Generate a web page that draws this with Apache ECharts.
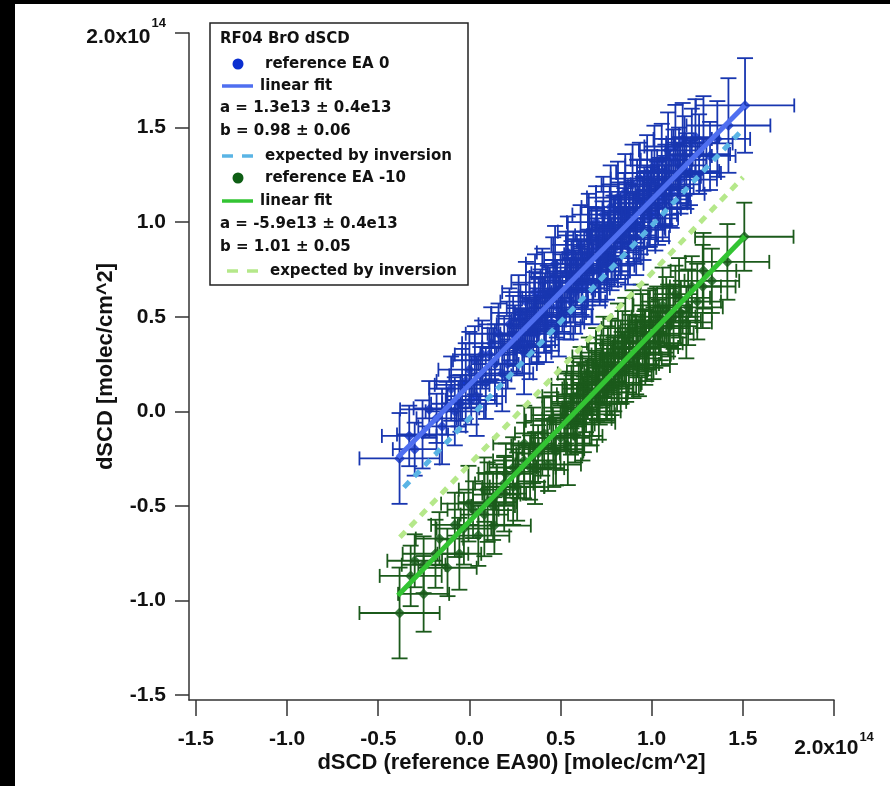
<!DOCTYPE html>
<html><head><meta charset="utf-8">
<script src="https://cdn.jsdelivr.net/npm/echarts@6/dist/echarts.min.js"></script>
<style>html,body{margin:0;padding:0;background:#fff}#c{width:890px;height:786px}</style>
</head><body><div id="c"></div>
<script>
// values in units of 1e14 molec/cm^2 ; each point: [x, y, xErr, yErr]
const xTicks = [-1.5, -1.0, -0.5, 0.0, 0.5, 1.0, 1.5, 2.0];
const yTicks = [-1.5, -1.0, -0.5, 0.0, 0.5, 1.0, 1.5, 2.0];

const refEA0 = [
[-0.383,-0.249,0.22,0.24],[-0.33,-0.13,0.15,0.16],[-0.30,-0.20,0.12,0.14],[-0.257,-0.122,0.14,0.18],
[-0.22,0.01,0.16,0.15],[-0.18,-0.037,0.11,0.13],[-0.15,-0.08,0.13,0.20],[-0.126,0.016,0.18,0.14],
[-0.10,0.12,0.12,0.17],[-0.06,0.04,0.15,0.12],[-0.049,0.042,0.10,0.15],[-0.02,0.16,0.16,0.20],
[0.01,0.06,0.14,0.13],[0.03,0.27,0.12,0.18],[0.06,0.19,0.17,0.15],[0.09,0.15,0.11,0.19],
[0.11,0.30,0.15,0.14],[0.14,0.25,0.13,0.21],[0.16,0.41,0.18,0.16],[0.191,0.334,0.12,0.17],
[0.21,0.25,0.16,0.13],[0.24,0.41,0.14,0.20],[0.25,0.40,0.12,0.16],[0.26,0.34,0.19,0.15],
[0.28,0.49,0.12,0.18],[0.30,0.31,0.15,0.22],[0.32,0.46,0.17,0.14],[0.34,0.42,0.13,0.17],
[0.35,0.44,0.13,0.15],[0.355,0.546,0.15,0.19],[0.37,0.41,0.20,0.16],[0.39,0.61,0.12,0.14],
[0.41,0.51,0.16,0.20],[0.43,0.60,0.14,0.17],[0.44,0.63,0.11,0.13],[0.45,0.47,0.18,0.15],
[0.46,0.71,0.13,0.21],[0.48,0.55,0.15,0.16],[0.50,0.65,0.17,0.18],[0.51,0.58,0.14,0.16],
[0.52,0.52,0.12,0.14],[0.53,0.73,0.19,0.20],[0.55,0.64,0.14,0.17],[0.56,0.72,0.12,0.18],
[0.57,0.80,0.16,0.15],[0.58,0.63,0.13,0.22],[0.59,0.68,0.15,0.12],[0.60,0.74,0.18,0.16],
[0.62,0.65,0.15,0.19],[0.63,0.81,0.12,0.14],[0.64,0.70,0.11,0.16],[0.65,0.76,0.17,0.20],
[0.66,0.83,0.14,0.13],[0.67,0.91,0.14,0.17],[0.68,0.74,0.20,0.15],[0.70,0.86,0.13,0.21],
[0.71,0.80,0.12,0.17],[0.72,0.74,0.16,0.16],[0.73,0.93,0.15,0.18],[0.74,0.90,0.15,0.14],
[0.75,0.84,0.18,0.14],[0.76,0.82,0.11,0.15],[0.77,0.99,0.12,0.20],[0.78,0.81,0.16,0.17],
[0.79,0.96,0.13,0.18],[0.80,0.92,0.14,0.22],[0.82,1.06,0.17,0.15],[0.83,0.89,0.13,0.19],
[0.84,0.95,0.15,0.13],[0.85,1.02,0.19,0.16],[0.86,1.05,0.12,0.16],[0.87,0.87,0.15,0.20],
[0.88,1.02,0.12,0.14],[0.90,0.97,0.17,0.18],[0.91,1.00,0.14,0.15],[0.92,1.12,0.14,0.21],
[0.94,0.98,0.16,0.15],[0.95,1.10,0.13,0.14],[0.96,1.12,0.13,0.17],[0.98,1.07,0.18,0.20],
[0.99,1.04,0.15,0.17],[1.00,1.22,0.15,0.16],[1.02,1.04,0.12,0.19],[1.03,1.17,0.12,0.15],
[1.04,1.19,0.17,0.15],[1.06,1.12,0.14,0.22],[1.07,1.14,0.14,0.16],[1.08,1.27,0.16,0.17],
[1.10,1.18,0.13,0.20],[1.12,1.33,0.18,0.16],[1.14,1.24,0.13,0.17],[1.158,1.225,0.20,0.18],
[1.18,1.35,0.15,0.21],[1.21,1.26,0.17,0.17],[1.24,1.45,0.13,0.20],[1.284,1.416,0.16,0.25],
[1.32,1.35,0.14,0.18],[1.36,1.44,0.18,0.20],[1.421,1.511,0.23,0.25],[1.512,1.617,0.27,0.25],
[0.22,0.46,0.17,0.19],[0.27,0.52,0.15,0.20],[0.29,0.37,0.18,0.17],[0.31,0.58,0.14,0.21],[0.33,0.35,0.16,0.18],
[0.36,0.63,0.18,0.20],[0.38,0.48,0.15,0.22],[0.40,0.68,0.17,0.18],[0.42,0.45,0.19,0.19],[0.47,0.78,0.16,0.20],
[0.49,0.50,0.18,0.21],[0.54,0.84,0.17,0.19],[0.555,0.58,0.19,0.20],[0.61,0.88,0.16,0.21],[0.615,0.69,0.20,0.18],
[0.655,0.95,0.17,0.20],[0.675,0.68,0.18,0.22],[0.695,1.00,0.16,0.19],[0.715,0.77,0.19,0.21],[0.735,1.04,0.17,0.20],
[0.755,0.78,0.20,0.19],[0.775,1.08,0.16,0.22],[0.795,0.86,0.18,0.20],[0.815,1.13,0.17,0.19],[0.835,0.93,0.19,0.21],
[0.855,1.16,0.16,0.20],[0.875,0.96,0.20,0.18],[0.895,1.20,0.17,0.21],[0.915,0.92,0.18,0.20],[0.935,1.23,0.16,0.19],
[0.955,1.02,0.19,0.22],[0.975,1.26,0.17,0.20],[0.995,1.10,0.20,0.19],[1.015,1.30,0.16,0.21],[1.035,1.08,0.18,0.20],
[1.055,1.33,0.17,0.19],[1.075,1.20,0.19,0.21],[1.09,1.38,0.16,0.20],[1.11,1.15,0.18,0.18],[1.13,1.40,0.17,0.22],
[1.15,1.30,0.15,0.20],[1.17,1.44,0.16,0.19],[1.19,1.27,0.18,0.20],[1.22,1.42,0.14,0.18],[1.26,1.36,0.17,0.21],
[0.12,0.36,0.16,0.19],[0.07,0.30,0.15,0.18],[0.00,0.22,0.17,0.20],[-0.04,0.14,0.15,0.19],[-0.08,0.00,0.16,0.18],
[0.18,0.20,0.17,0.20],[0.04,0.08,0.16,0.21]
];

const refEAm10 = [
[-0.383,-1.066,0.22,0.24],[-0.322,-0.870,0.17,0.16],[-0.30,-0.79,0.15,0.14],[-0.251,-0.965,0.14,0.20],
[-0.251,-0.811,0.12,0.15],[-0.186,-0.753,0.18,0.18],[-0.164,-0.673,0.13,0.14],[-0.120,-0.827,0.16,0.15],
[-0.08,-0.60,0.13,0.17],[-0.055,-0.753,0.12,0.19],[-0.005,-0.488,0.15,0.20],[0.02,-0.52,0.14,0.15],
[0.049,-0.657,0.17,0.16],[0.082,-0.546,0.13,0.22],[0.082,-0.414,0.14,0.17],[0.13,-0.50,0.12,0.18],
[0.137,-0.604,0.20,0.15],[0.15,-0.44,0.13,0.16],[0.191,-0.435,0.12,0.20],[0.191,-0.382,0.16,0.14],
[0.20,-0.33,0.15,0.16],[0.240,-0.297,0.13,0.16],[0.262,-0.398,0.15,0.18],[0.27,-0.32,0.12,0.14],
[0.301,-0.170,0.17,0.20],[0.333,-0.297,0.14,0.17],[0.35,-0.18,0.12,0.20],[0.377,-0.223,0.12,0.15],
[0.40,-0.19,0.13,0.15],[0.410,-0.117,0.16,0.19],[0.432,-0.281,0.18,0.14],[0.45,-0.05,0.14,0.15],
[0.475,-0.212,0.15,0.18],[0.50,-0.14,0.16,0.17],[0.53,0.02,0.13,0.19],[0.557,-0.069,0.13,0.16],
[0.56,0.05,0.11,0.14],[0.58,-0.13,0.15,0.14],[0.60,0.09,0.12,0.17],[0.62,-0.06,0.18,0.20],
[0.628,-0.016,0.17,0.20],[0.64,0.02,0.13,0.13],[0.65,0.12,0.14,0.16],[0.67,0.00,0.16,0.18],
[0.69,0.17,0.13,0.15],[0.70,0.11,0.11,0.16],[0.71,0.05,0.15,0.20],[0.73,0.21,0.17,0.17],
[0.74,0.16,0.12,0.13],[0.75,0.10,0.12,0.14],[0.76,0.26,0.14,0.19],[0.78,0.14,0.16,0.16],
[0.79,0.24,0.11,0.15],[0.80,0.30,0.13,0.18],[0.82,0.19,0.18,0.15],[0.84,0.33,0.15,0.20],
[0.85,0.28,0.13,0.14],[0.86,0.22,0.12,0.17],[0.88,0.37,0.16,0.14],[0.90,0.25,0.14,0.18],
[0.92,0.33,0.12,0.15],[0.93,0.24,0.17,0.16],[0.95,0.42,0.13,0.20],[0.96,0.37,0.11,0.16],
[0.97,0.31,0.15,0.15],[0.99,0.47,0.12,0.17],[1.01,0.36,0.16,0.19],[1.03,0.50,0.14,0.16],
[1.04,0.45,0.13,0.14],[1.05,0.41,0.18,0.14],[1.08,0.53,0.13,0.18],[1.10,0.45,0.15,0.20],
[1.12,0.50,0.12,0.17],[1.13,0.62,0.12,0.15],[1.16,0.52,0.17,0.17],[1.19,0.47,0.14,0.19],
[1.22,0.66,0.16,0.16],[1.25,0.58,0.13,0.20],[1.284,0.743,0.18,0.20],[1.33,0.69,0.15,0.17],
[1.415,0.79,0.23,0.20],[1.508,0.923,0.27,0.18],
[0.46,-0.20,0.17,0.20],[0.52,-0.02,0.18,0.19],[0.54,-0.18,0.16,0.21],[0.57,0.08,0.17,0.20],[0.59,-0.04,0.19,0.18],
[0.61,0.14,0.16,0.20],[0.63,0.04,0.18,0.21],[0.655,0.20,0.17,0.19],[0.675,0.07,0.19,0.20],[0.695,0.24,0.16,0.20],
[0.715,0.12,0.18,0.19],[0.735,0.29,0.17,0.21],[0.755,0.15,0.19,0.20],[0.775,0.31,0.16,0.18],[0.795,0.20,0.18,0.20],
[0.815,0.36,0.17,0.21],[0.835,0.23,0.19,0.19],[0.855,0.40,0.16,0.20],[0.875,0.28,0.18,0.18],[0.895,0.44,0.17,0.20],
[0.915,0.30,0.19,0.21],[0.94,0.48,0.16,0.19],[0.965,0.34,0.18,0.20],[0.985,0.40,0.17,0.18],[1.02,0.44,0.19,0.21],
[1.06,0.56,0.16,0.20],[1.09,0.48,0.18,0.19],[1.15,0.60,0.17,0.21],[1.20,0.55,0.19,0.20],[1.28,0.66,0.18,0.22],
[0.30,-0.26,0.17,0.20],[0.36,-0.30,0.16,0.19],[0.24,-0.40,0.17,0.20],[0.10,-0.48,0.16,0.21],[-0.03,-0.62,0.15,0.19]
];

const fitEA0 = [[-0.392,-0.243],[1.512,1.618]];
const expectedEA0 = [[-0.359,-0.402],[1.506,1.497]];
const fitEAm10 = [[-0.392,-0.973],[1.512,0.925]];
const expectedEAm10 = [[-0.381,-0.666],[1.501,1.237]];

const legendRows = [
  {text:'RF04 BrO dSCD', x:220, y:39},
  {text:'reference EA 0', x:265, y:64, sym:'dot', color:'#0b2fd0'},
  {text:'linear fit', x:260, y:86, sym:'line', color:'#4f6ff0'},
  {text:'a = 1.3e13 ± 0.4e13', x:220, y:108},
  {text:'b = 0.98 ± 0.06', x:220, y:131},
  {text:'expected by inversion', x:265, y:156, sym:'dash', color:'#5ab4e5'},
  {text:'reference EA -10', x:265, y:178, sym:'dot', color:'#0e5e14'},
  {text:'linear fit', x:260, y:201, sym:'line', color:'#33c433'},
  {text:'a = -5.9e13 ± 0.4e13', x:220, y:224},
  {text:'b = 1.01 ± 0.05', x:220, y:247},
  {text:'expected by inversion', x:270, y:271, sym:'dash', color:'#b5e88a'}
];

const C_BLUE_ERR = '#1836b0', C_BLUE_PT = '#0b2fd0';
const C_GREEN_ERR = '#1b5a1b', C_GREEN_PT = '#0e5e14';
const FONT = '"Liberation Sans", Arial, sans-serif';

function errRender(color) {
  return function (params, api) {
    const x = api.value(0), y = api.value(1), xe = api.value(2), ye = api.value(3);
    const l = api.coord([x - xe, y]), r = api.coord([x + xe, y]);
    const t = api.coord([x, y + ye]), b = api.coord([x, y - ye]);
    const c = 7, w = 8;
    const st = {stroke: color, lineWidth: 1.8};
    return {type: 'group', children: [
      {type: 'line', shape: {x1: l[0], y1: l[1], x2: r[0], y2: r[1]}, style: st},
      {type: 'line', shape: {x1: l[0], y1: l[1] - c, x2: l[0], y2: l[1] + c}, style: st},
      {type: 'line', shape: {x1: r[0], y1: r[1] - c, x2: r[0], y2: r[1] + c}, style: st},
      {type: 'line', shape: {x1: t[0], y1: t[1], x2: b[0], y2: b[1]}, style: st},
      {type: 'line', shape: {x1: t[0] - w, y1: t[1], x2: t[0] + w, y2: t[1]}, style: st},
      {type: 'line', shape: {x1: b[0] - w, y1: b[1], x2: b[0] + w, y2: b[1]}, style: st}
    ]};
  };
}

const tickFont = {fontSize: 21, fontWeight: 'bold', color: '#111', fontFamily: FONT};

function legendGraphics() {
  const els = [];
  els.push({type: 'rect', shape: {x: 210, y: 23, width: 258, height: 262},
    style: {fill: '#fff', stroke: '#222', lineWidth: 1.5}, z: 100});
  legendRows.forEach(r => {
    els.push({type: 'text', x: r.x, y: r.y, z: 101,
      style: {text: r.text, fill: '#111', font: 'bold 15px "DejaVu Sans", sans-serif', verticalAlign: 'middle'}});
    if (r.sym === 'dot') {
      els.push({type: 'circle', shape: {cx: 238, cy: r.y, r: 5.5}, style: {fill: r.color}, z: 101});
    } else if (r.sym === 'line') {
      els.push({type: 'line', shape: {x1: 222, y1: r.y, x2: 253, y2: r.y}, style: {stroke: r.color, lineWidth: 3.5}, z: 101});
    } else if (r.sym === 'dash') {
      const off = r.x - 265;
      els.push({type: 'line', shape: {x1: 222 + off, y1: r.y, x2: 233 + off, y2: r.y}, style: {stroke: r.color, lineWidth: 3.5}, z: 101});
      els.push({type: 'line', shape: {x1: 242 + off, y1: r.y, x2: 253 + off, y2: r.y}, style: {stroke: r.color, lineWidth: 3.5}, z: 101});
    }
  });
  els.push({type: 'rect', shape: {x: 0, y: 0, width: 890, height: 4}, style: {fill: '#000'}, z: 110});
  els.push({type: 'rect', shape: {x: 0, y: 0, width: 15, height: 786}, style: {fill: '#000'}, z: 110});
  return els;
}

const chart = echarts.init(document.getElementById('c'), null, {renderer: 'canvas'});
chart.setOption({
  backgroundColor: '#fff',
  animation: false,
  grid: {left: 189, right: 56, top: 33, bottom: 86, containLabel: false, outerBoundsMode: 'none'},
  xAxis: {
    type: 'value', min: -1.538, max: 2.0,
    axisLine: {show: true, onZero: false, lineStyle: {color: '#333', width: 1.5}},
    axisTick: {show: true, length: 16, customValues: xTicks, lineStyle: {color: '#333', width: 1.5}},
    splitLine: {show: false},
    axisLabel: Object.assign({}, tickFont, {
      customValues: xTicks, margin: 29,
      formatter: v => Math.abs(v - 2) < 1e-9 ? '{m|2.0x10}{s|14}' : v.toFixed(1),
      rich: {
        m: {fontSize: 21, fontWeight: 'bold', color: '#111', fontFamily: FONT, padding: [9, 0, 0, 0]},
        s: {fontSize: 13, fontWeight: 'bold', color: '#111', fontFamily: FONT, padding: [0, 0, 14, 1]}
      }
    }),
    name: 'dSCD (reference EA90) [molec/cm^2]', nameLocation: 'middle', nameGap: 52, nameMoveOverlap: false,
    nameTextStyle: {fontSize: 22, fontWeight: 'bold', color: '#111', fontFamily: FONT}
  },
  yAxis: {
    type: 'value', min: -1.526, max: 2.0,
    axisLine: {show: true, onZero: false, lineStyle: {color: '#333', width: 1.5}},
    axisTick: {show: true, length: 14, customValues: yTicks, lineStyle: {color: '#333', width: 1.5}},
    splitLine: {show: false},
    axisLabel: Object.assign({}, tickFont, {
      customValues: yTicks, margin: 23,
      formatter: v => Math.abs(v - 2) < 1e-9 ? '{m|2.0x10}{s|14}' : v.toFixed(1),
      rich: {
        m: {fontSize: 21, fontWeight: 'bold', color: '#111', fontFamily: FONT, padding: [8, 0, 0, 0]},
        s: {fontSize: 13, fontWeight: 'bold', color: '#111', fontFamily: FONT, padding: [0, 0, 20, 1]}
      }
    }),
    name: 'dSCD [molec/cm^2]', nameLocation: 'middle', nameGap: 72, nameMoveOverlap: false,
    nameTextStyle: {fontSize: 22, fontWeight: 'bold', color: '#111', fontFamily: FONT}
  },
  series: [
    {type: 'scatter', name: 'reference EA -10', data: refEAm10.map(p => [p[0], p[1]]), symbol: 'diamond', symbolSize: 11, itemStyle: {color: C_GREEN_PT}, z: 2},
    {type: 'scatter', name: 'reference EA 0', data: refEA0.map(p => [p[0], p[1]]), symbol: 'diamond', symbolSize: 11, itemStyle: {color: C_BLUE_PT}, z: 2},
    {type: 'custom', name: 'err EA -10', data: refEAm10, encode: {x: 0, y: 1}, renderItem: errRender(C_GREEN_ERR), z: 3, silent: true},
    {type: 'custom', name: 'err EA 0', data: refEA0, encode: {x: 0, y: 1}, renderItem: errRender(C_BLUE_ERR), z: 3, silent: true},
    {type: 'line', name: 'linear fit EA 0', data: fitEA0, showSymbol: false, lineStyle: {color: '#4f6ff0', width: 5}, z: 4},
    {type: 'line', name: 'linear fit EA -10', data: fitEAm10, showSymbol: false, lineStyle: {color: '#33c433', width: 5}, z: 4},
    {type: 'line', name: 'expected EA 0', data: expectedEA0, showSymbol: false, lineStyle: {color: '#5ab4e5', width: 5, type: [8, 7]}, z: 5},
    {type: 'line', name: 'expected EA -10', data: expectedEAm10, showSymbol: false, lineStyle: {color: '#b5e88a', width: 5, type: [8, 7]}, z: 5}
  ],
  graphic: legendGraphics()
});
</script></body></html>
